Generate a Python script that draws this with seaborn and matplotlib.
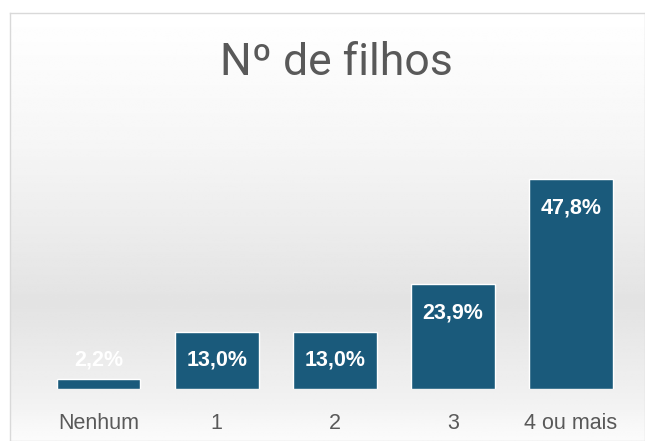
import numpy as np
import pandas as pd
import matplotlib
matplotlib.use("Agg")
import matplotlib.pyplot as plt
import seaborn as sns

# Data
categories = ["Nenhum", "1", "2", "3", "4 ou mais"]
percent = [2.2, 13.0, 13.0, 23.9, 47.8]
labels = ["2,2%", "13,0%", "13,0%", "23,9%", "47,8%"]

BAR_COLOR = "#1a5a7b"
TEXT_GRAY = "#595959"

sns.set_theme(style="white")
plt.rcParams["font.family"] = ["Liberation Sans", "DejaVu Sans"]

df = pd.DataFrame({"cat": categories, "pct": percent})

fig = plt.figure(figsize=(6.45, 4.41), dpi=100)

# chart frame with vertical gray gradient
frame = fig.add_axes([10 / 645, 0, 1 - 10 / 645, 1 - 13 / 441], zorder=0)
rows = np.linspace(0, 1, 200)
anchors_pos = [0.0, 0.3, 0.68, 0.9, 1.0]
anchors_val = [1.0, 0.965, 0.89, 0.945, 0.985]
shade = np.interp(rows, anchors_pos, anchors_val)
grad = np.repeat(shade[:, None], 2, axis=1)
frame.imshow(grad, aspect="auto", cmap="gray", vmin=0, vmax=1,
             extent=[0, 1, 1, 0], interpolation="bilinear")
frame.set_xlim(0, 1)
frame.set_ylim(1, 0)
frame.set_xticks([])
frame.set_yticks([])
for s in frame.spines.values():
    s.set_color("#d9d9d9")
    s.set_linewidth(1.0)

ax = fig.add_axes([39.5 / 645, 52 / 441, 590.5 / 645, 242 / 441], zorder=1)
ax.patch.set_alpha(0)
sns.barplot(data=df, x="cat", y="pct", color=BAR_COLOR, saturation=1,
            width=0.71, ax=ax)
ax.set_ylim(0, 55)
ax.set_xlim(-0.5, 4.5)

for i, (v, lab) in enumerate(zip(percent, labels)):
    y = max(v - 6.6, 6.6)
    ax.text(i, y, lab, ha="center", va="center", color="white",
            fontsize=15.5, fontweight="bold")

ax.set_xlabel("")
ax.set_ylabel("")
ax.set_yticks([])
ax.tick_params(axis="x", length=0, labelsize=15.5, labelcolor=TEXT_GRAY, pad=17)
sns.despine(ax=ax, left=True, bottom=True)

fig.text(336 / 645, 1 - 63 / 441, "Nº de filhos", ha="center", va="center",
         fontsize=32, color=TEXT_GRAY, family=["Roboto", "DejaVu Sans"])

fig.savefig("out.png", dpi=100)
